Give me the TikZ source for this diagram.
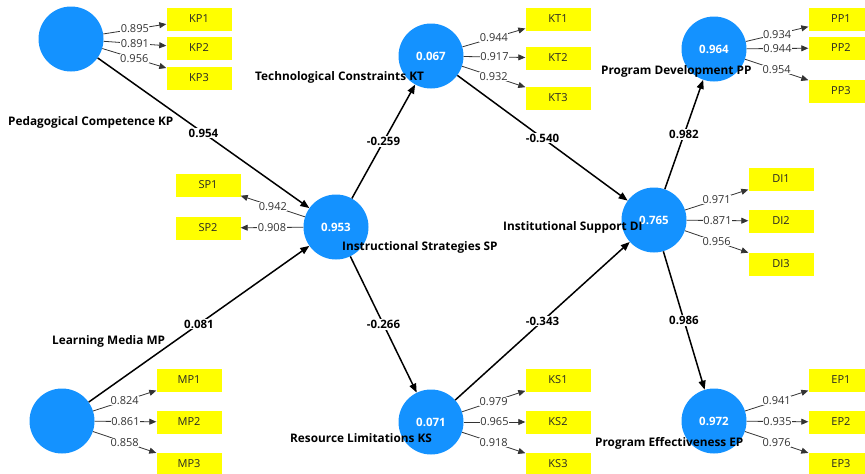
\documentclass[tikz,border=0pt]{standalone}
\usepackage{fontspec}
\setmainfont{Open Sans}
\usetikzlibrary{arrows.meta}
\definecolor{lvblue}{RGB}{20,146,255}
\definecolor{mvyellow}{RGB}{255,255,0}

\begin{document}
\begin{tikzpicture}[x=1pt,y=-1pt,
        latent/.style={circle,fill=lvblue,minimum size=65pt,inner sep=0pt,
            text=white,font=\fontsize{11.5}{13}\selectfont\bfseries},
        indicator/.style={rectangle,fill=mvyellow,minimum width=65pt,
            minimum height=23pt,inner sep=0pt,text=black!85,font=\fontsize{11}{13}\selectfont},
        lvname/.style={anchor=west,inner sep=0pt,font=\fontsize{11.8}{13}\selectfont\bfseries},
        structural/.style={line width=1.5pt,-{Triangle[length=9pt,width=7pt]}},
        loading/.style={line width=0.8pt,black!80,-{Triangle[length=7pt,width=6pt]}},
        coef/.style={fill=white,inner sep=1pt,font=\fontsize{11.5}{13}\selectfont\bfseries},
        weight/.style={fill=white,inner sep=0.5pt,text=black!80,font=\fontsize{11}{13}\selectfont}]
    \useasboundingbox (0,0) rectangle (865,474);

    % latent variables
    \node[latent] (kp) at (71,39) {};
    \node[latent] (kt) at (431,56) {0.067};
    \node[latent] (pp) at (714,49) {0.964};
    \node[latent] (sp) at (336,227) {0.953};
    \node[latent] (di) at (654,220) {0.765};
    \node[latent] (mp) at (62,421) {};
    \node[latent] (ks) at (431,422) {0.071};
    \node[latent] (ep) at (714,421) {0.972};

    % indicators
    \node[indicator] (kp1) at (199,19) {KP1};
    \node[indicator] (kp2) at (199,48) {KP2};
    \node[indicator] (kp3) at (199,78) {KP3};
    \node[indicator] (kt1) at (558,19) {KT1};
    \node[indicator] (kt2) at (558,58) {KT2};
    \node[indicator] (kt3) at (558,98) {KT3};
    \node[indicator] (pp1) at (841,19) {PP1};
    \node[indicator] (pp2) at (841,48) {PP2};
    \node[indicator] (pp3) at (841,91) {PP3};
    \node[indicator] (sp1) at (208,185) {SP1};
    \node[indicator] (sp2) at (208,228) {SP2};
    \node[indicator] (di1) at (781,179) {DI1};
    \node[indicator] (di2) at (781,221) {DI2};
    \node[indicator] (di3) at (781,264) {DI3};
    \node[indicator] (mp1) at (189,380) {MP1};
    \node[indicator] (mp2) at (189,422) {MP2};
    \node[indicator] (mp3) at (189,464) {MP3};
    \node[indicator] (ks1) at (558,380) {KS1};
    \node[indicator] (ks2) at (558,422) {KS2};
    \node[indicator] (ks3) at (558,464) {KS3};
    \node[indicator] (ep1) at (841,380) {EP1};
    \node[indicator] (ep2) at (841,422) {EP2};
    \node[indicator] (ep3) at (841,464) {EP3};

    % outer loadings
    \draw[loading] (kp) -- node[weight] {0.895} (kp1);
    \draw[loading] (kp) -- node[weight] {0.891} (kp2);
    \draw[loading] (kp) -- node[weight] {0.956} (kp3);
    \draw[loading] (kt) -- node[weight] {0.944} (kt1);
    \draw[loading] (kt) -- node[weight] {0.917} (kt2);
    \draw[loading] (kt) -- node[weight] {0.932} (kt3);
    \draw[loading] (pp) -- node[weight] {0.934} (pp1);
    \draw[loading] (pp) -- node[weight] {0.944} (pp2);
    \draw[loading] (pp) -- node[weight] {0.954} (pp3);
    \draw[loading] (sp) -- node[weight] {0.942} (sp1);
    \draw[loading] (sp) -- node[weight] {0.908} (sp2);
    \draw[loading] (di) -- node[weight] {0.971} (di1);
    \draw[loading] (di) -- node[weight] {0.871} (di2);
    \draw[loading] (di) -- node[weight] {0.956} (di3);
    \draw[loading] (mp) -- node[weight] {0.824} (mp1);
    \draw[loading] (mp) -- node[weight] {0.861} (mp2);
    \draw[loading] (mp) -- node[weight] {0.858} (mp3);
    \draw[loading] (ks) -- node[weight] {0.979} (ks1);
    \draw[loading] (ks) -- node[weight] {0.965} (ks2);
    \draw[loading] (ks) -- node[weight] {0.918} (ks3);
    \draw[loading] (ep) -- node[weight] {0.941} (ep1);
    \draw[loading] (ep) -- node[weight] {0.935} (ep2);
    \draw[loading] (ep) -- node[weight] {0.976} (ep3);

    % inner model
    \draw[structural] (kp) -- node[coef] {0.954} (sp);
    \draw[structural] (mp) -- node[coef] {0.081} (sp);
    \draw[structural] (sp) -- node[coef] {-0.259} (kt);
    \draw[structural] (sp) -- node[coef] {-0.266} (ks);
    \draw[structural] (kt) -- node[coef] {-0.540} (di);
    \draw[structural] (ks) -- node[coef] {-0.343} (di);
    \draw[structural] (di) -- node[coef] {0.982} (pp);
    \draw[structural] (di) -- node[coef] {0.986} (ep);

    % construct names
    \node[lvname] (kpname) at (8,122) {Pedagogical Competence KP};
    \node[lvname] (ktname) at (255,77) {Technological Constraints KT};
    \node[lvname] (ppname) at (601,71) {Program Development PP};
    \node[lvname] (spname) at (342,247) {Instructional Strategies SP};
    \node[lvname] (diname) at (503,227) {Institutional Support DI};
    \node[lvname] (mpname) at (52,341) {Learning Media MP};
    \node[lvname] (ksname) at (290,438) {Resource Limitations KS};
    \node[lvname] (epname) at (595,443) {Program Effectiveness EP};
\end{tikzpicture}
\end{document}
